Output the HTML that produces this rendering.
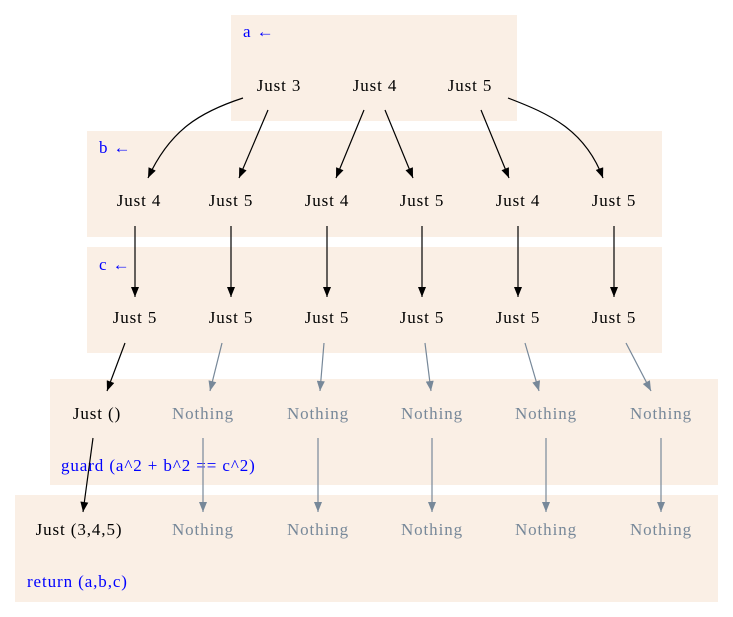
<!DOCTYPE html>
<html><head><meta charset="utf-8"><style>
body{margin:0;background:#fff}
svg{display:block}
text{font-family:"Liberation Serif",serif;font-size:17px;letter-spacing:0.9px}
</style></head><body>
<svg width="733" height="617" viewBox="0 0 733 617">
<defs>
<marker id="k" viewBox="0 0 10 8" refX="10" refY="4" markerWidth="11" markerHeight="8" markerUnits="userSpaceOnUse" orient="auto"><path d="M0,0L10,4L0,8z" fill="#000"/></marker>
<marker id="g" viewBox="0 0 10 8" refX="10" refY="4" markerWidth="11" markerHeight="8" markerUnits="userSpaceOnUse" orient="auto"><path d="M0,0L10,4L0,8z" fill="#778899"/></marker>
</defs>
<g fill="#faefe5">
<rect x="231" y="15" width="286" height="106"/>
<rect x="87" y="131" width="575" height="106"/>
<rect x="87" y="247" width="575" height="106"/>
<rect x="50" y="379" width="668" height="106"/>
<rect x="15" y="495" width="703" height="107"/>
</g>
<g fill="#0000ff">
<text x="243" y="37">a ←</text>
<text x="99" y="153">b ←</text>
<text x="99" y="270">c ←</text>
<text x="61" y="471">guard (a^2 + b^2 == c^2)</text>
<text x="27" y="587">return (a,b,c)</text>
</g>
<g text-anchor="middle">
<text x="279" y="91">Just 3</text><text x="375" y="91">Just 4</text><text x="470" y="91">Just 5</text>
<text x="139" y="206">Just 4</text><text x="231" y="206">Just 5</text><text x="327" y="206">Just 4</text><text x="422" y="206">Just 5</text><text x="518" y="206">Just 4</text><text x="614" y="206">Just 5</text>
<text x="135" y="323">Just 5</text><text x="231" y="323">Just 5</text><text x="327" y="323">Just 5</text><text x="422" y="323">Just 5</text><text x="518" y="323">Just 5</text><text x="614" y="323">Just 5</text>
<text x="97" y="419">Just ()</text>
<text x="79" y="535">Just (3,4,5)</text>
<g fill="#778899">
<text x="203" y="419">Nothing</text><text x="318" y="419">Nothing</text><text x="432" y="419">Nothing</text><text x="546" y="419">Nothing</text><text x="661" y="419">Nothing</text>
<text x="203" y="535">Nothing</text><text x="318" y="535">Nothing</text><text x="432" y="535">Nothing</text><text x="546" y="535">Nothing</text><text x="661" y="535">Nothing</text>
</g></g>
<g stroke="#000" stroke-width="1.2" fill="none" marker-end="url(#k)">
<path d="M243,98C200,112 170,130 148,178"/>
<path d="M268,110L239,178"/>
<path d="M364,110L336,178"/>
<path d="M385,110L413,178"/>
<path d="M481,110L509,178"/>
<path d="M508,98C550,114 585,130 603,178"/>
<path d="M135,226V297"/><path d="M231,226V297"/><path d="M327,226V297"/><path d="M422,226V297"/><path d="M518,226V297"/><path d="M614,226V297"/>
<path d="M125,343L107,391"/>
<path d="M93,438L83,512"/>
</g>
<g stroke="#778899" stroke-width="1.2" fill="none" marker-end="url(#g)">
<path d="M222,343L210,391"/><path d="M324,343L320,391"/><path d="M425,343L431,391"/><path d="M525,343L539,391"/><path d="M626,343L651,391"/>
<path d="M203,438V512"/><path d="M318,438V512"/><path d="M432,438V512"/><path d="M546,438V512"/><path d="M661,438V512"/>
</g>
</svg>
</body></html>
